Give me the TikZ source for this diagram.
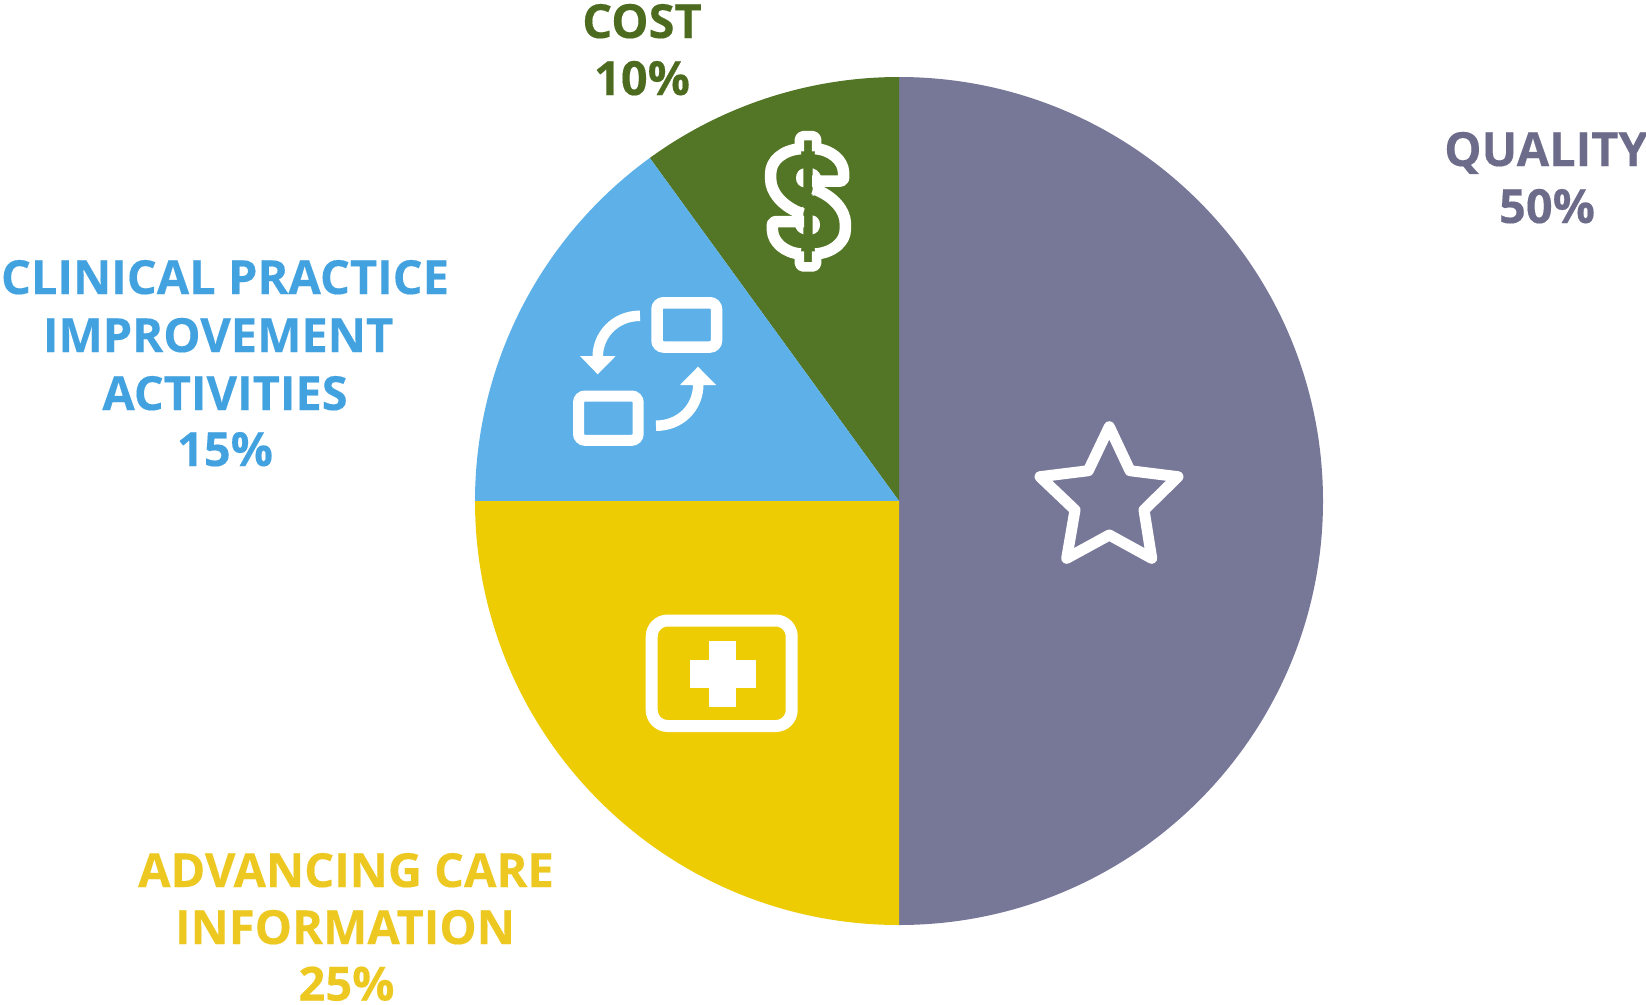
\documentclass[tikz,border=0pt]{standalone}
\usepackage{fontspec}
\setmainfont{Open Sans}[FakeStretch=1.0,BoldFeatures={FakeBold=0.3}]
\definecolor{cq}{HTML}{777798}
\definecolor{cc}{HTML}{527625}
\definecolor{cb}{HTML}{5DB1E8}
\definecolor{cy}{HTML}{EDCC04}
\definecolor{tq}{HTML}{6C6C8A}
\definecolor{tc}{HTML}{4C6B1F}
\definecolor{tb}{HTML}{42A1DF}
\definecolor{ty}{HTML}{ECC821}
\tikzset{
  lab/.style={anchor=base,inner sep=0pt,font=\fontsize{47}{58}\selectfont\bfseries},
  wline/.style={draw=white,line width=11.5pt,line join=round,rounded corners=3pt},
  wnub/.style={draw=white,line width=9.5pt,line join=round,rounded corners=4pt},
}
\newcommand{\dollarhalf}{%
  \draw[wnub] (26,-150) -- (26,-197) -- (-26,-197) -- (-26,-150);
  \draw[wline] (12,-61) -- (107,-61) -- (107,-79) .. controls (105,-122) and (71,-154) .. (22,-158);
  \draw[wline] (-22,-158) .. controls (-75,-154) and (-112,-122) .. (-112,-75)
    .. controls (-112,-30) and (-80,15) .. (-16,38);
  \fill[white] (-14,16) -- (-14,99) .. controls (-30,95) and (-40,80) .. (-42,64) -- (-42,30) -- cycle;
  \fill[white] (-14,-99) .. controls (-28,-96) and (-36,-85) .. (-36,-70) .. controls (-36,-56) and (-28,-45) .. (-14,-42) -- cycle;
}
\begin{document}
\begin{tikzpicture}[x=1pt,y=-1pt]
\useasboundingbox (0,0) rectangle (1646,1004);
% pie
\begin{scope}[shift={(899,501)},x=1pt,y=1pt]
  \fill[cq] (0,0) -- (0,424) arc[start angle=90,end angle=-90,radius=424] -- cycle;
  \fill[cc] (0,0) -- (0,424) arc[start angle=90,end angle=126,radius=424] -- cycle;
  \fill[cb] (0,0) -- (126:424) arc[start angle=126,end angle=180,radius=424] -- cycle;
  \fill[cy] (0,0) -- (-424,0) arc[start angle=180,end angle=270,radius=424] -- cycle;
\end{scope}
% star
\draw[white,line width=11pt,line join=round]
  (1109.3,426.7) -- (1130,470.7) -- (1178,476.7) -- (1144,510) -- (1151.7,558.3)
  -- (1109.3,535) -- (1066.7,558.3) -- (1075,510) -- (1040,476.7) -- (1088.3,470.7) -- cycle;
% medical
\draw[white,line width=12pt,rounded corners=16pt] (651.7,620.5) rectangle (791.7,726);
\fill[white] (709,641) rectangle (736.3,707);
\fill[white] (690,660.3) rectangle (755.7,688.3);
% process
\draw[white,line width=11.5pt,rounded corners=6.5pt] (657,302.8) rectangle (716.5,347);
\draw[white,line width=11pt,rounded corners=6.5pt] (578.5,396) rectangle (638.2,440.3);
\draw[white,line width=10.5pt] (640,315.8) .. controls (615,315.8) and (597.7,335) .. (597.7,357);
\fill[white] (580,356) -- (615.7,356) -- (597.7,374.3) -- cycle;
\draw[white,line width=10.5pt] (656,425.7) .. controls (680,425.7) and (698.3,408) .. (698.3,384);
\fill[white] (680,385) -- (716,385) -- (698,366.7) -- cycle;
% dollar
\begin{scope}[shift={(808,201.33)},x=0.3333pt,y=0.3333pt,yscale=-1]
  \dollarhalf
\end{scope}
\begin{scope}[shift={(808,201.33)},x=-0.3333pt,y=-0.3333pt,yscale=-1]
  \dollarhalf
\end{scope}
% labels
\node[lab,text=tc] (cost) at (642,38) {COST};
\node[lab,text=tc] (costp) at (642,95) {10\%};
\node[lab,text=tq] (quality) at (1546,166) {QUALITY};
\node[lab,text=tq] (qualityp) at (1547,223) {50\%};
\node[lab,text=tb] (clin) at (225,294) {CLINICAL PRACTICE};
\node[lab,text=tb] (impr) at (218,352) {IMPROVEMENT};
\node[lab,text=tb] (acti) at (225,410) {ACTIVITIES};
\node[lab,text=tb] (clinp) at (225,466) {15\%};
\node[lab,text=ty] (adv) at (346,887) {ADVANCING CARE};
\node[lab,text=ty] (info) at (345,944) {INFORMATION};
\node[lab,text=ty] (advp) at (346.5,1000.5) {25\%};
\end{tikzpicture}
\end{document}
